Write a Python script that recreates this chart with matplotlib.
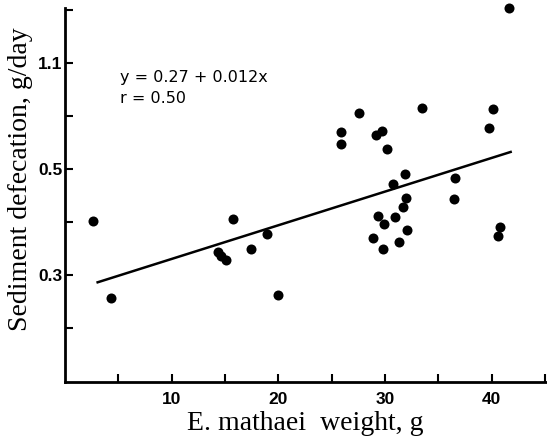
import matplotlib
matplotlib.use("Agg")
import matplotlib.pyplot as plt

# data
weight = [41.6, 25.9, 25.9, 27.55, 29.2, 29.75, 30.2, 33.5, 40.1, 39.8,
          31.9, 30.8, 36.6, 32.0, 31.7, 36.5, 2.6, 4.35, 15.75, 14.35,
          14.65, 15.1, 17.4, 18.9, 20.0, 29.35, 29.95, 30.9, 28.9, 29.8,
          31.3, 32.05, 40.75, 40.6]
defecation = [0.804, 0.569, 0.547, 0.605, 0.565, 0.572, 0.538, 0.616, 0.614, 0.577,
              0.491, 0.471, 0.484, 0.445, 0.428, 0.443, 0.401, 0.256, 0.405, 0.344,
              0.336, 0.328, 0.350, 0.377, 0.262, 0.412, 0.396, 0.410, 0.369, 0.349,
              0.362, 0.385, 0.390, 0.374]
fit_x = [2.95, 41.9]
fit_y = [0.2855, 0.533]

x_major = [10, 20, 30, 40]
x_minor = [5, 15, 25, 35, 45]
y_major = [0.3, 0.5, 0.7]
y_major_labels = ["0.3", "0.5", "1.1"]
y_minor = [0.2, 0.4, 0.6, 0.8]

tick_font = ["Liberation Sans Narrow", "Liberation Sans", "DejaVu Sans"]

fig = plt.figure(figsize=(5.47, 4.4), dpi=100)
ax = fig.add_axes([0.1188, 0.1318, 0.8793, 0.850])

ax.scatter(weight, defecation, s=52, color="black", zorder=3, clip_on=False, linewidths=0)
ax.plot(fit_x, fit_y, color="black", lw=1.8, solid_capstyle="butt")

ax.set_xlim(0, 45.1)
ax.set_ylim(0.098, 0.804)

for s in ["top", "right"]:
    ax.spines[s].set_visible(False)
for s in ["left", "bottom"]:
    ax.spines[s].set_linewidth(2)

ax.set_xticks(x_major)
ax.set_xticks(x_minor, minor=True)
ax.set_yticks(y_major)
ax.set_yticklabels(y_major_labels)
ax.set_yticks(y_minor, minor=True)
ax.tick_params(axis="both", which="both", direction="in", width=1.5, color="black", length=6)
ax.tick_params(axis="x", which="major", labelsize=12.5, pad=7)
ax.tick_params(axis="y", which="major", labelsize=12.5, pad=2)
for lab in ax.get_xticklabels() + ax.get_yticklabels():
    lab.set_family(tick_font)
    lab.set_fontweight("bold")

ax.set_xlabel("E. mathaei  weight, g", family="Liberation Serif", fontsize=20, labelpad=3)
ax.set_ylabel("Sediment defecation, g/day", family="Liberation Serif", fontsize=20)
ax.yaxis.set_label_coords(-0.066, 0.543)

ax.text(0.114, 0.815, "y = 0.27 + 0.012x", transform=ax.transAxes, fontsize=11.5, va="center")
ax.text(0.114, 0.757, "r = 0.50", transform=ax.transAxes, fontsize=11.5, va="center")

fig.savefig("out.png", dpi=100)
